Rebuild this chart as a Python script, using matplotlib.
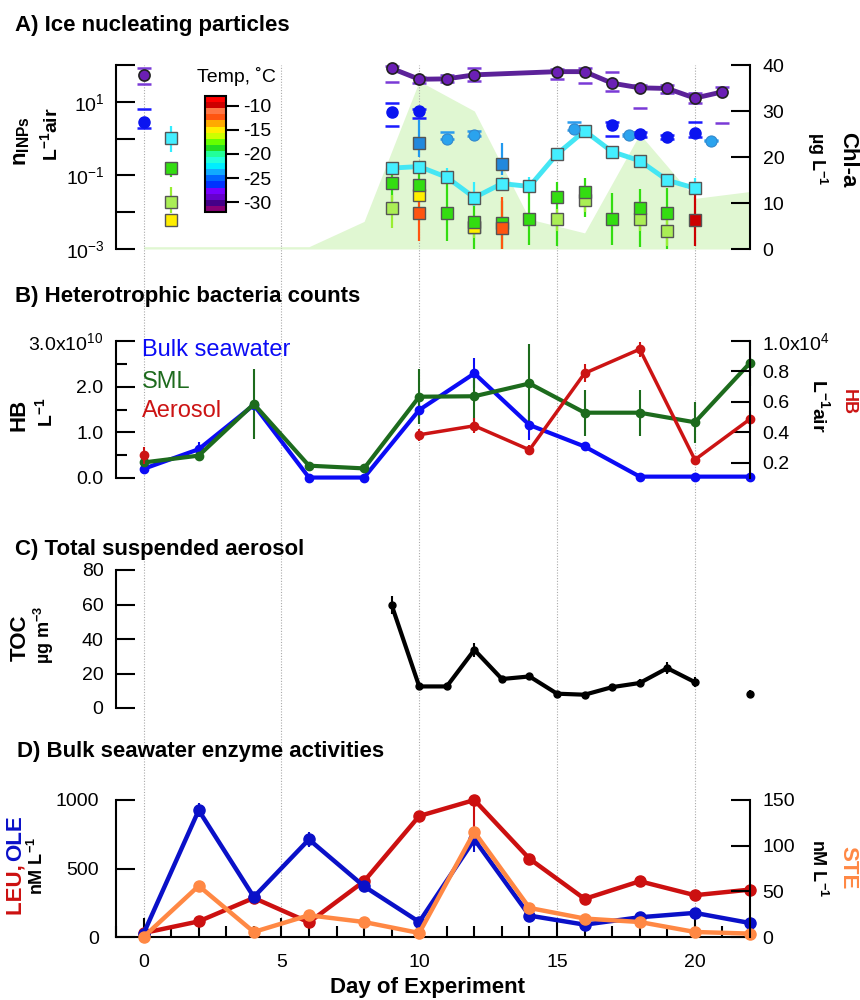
import numpy as np
import matplotlib.pyplot as plt
from matplotlib.colors import ListedColormap, Normalize
from matplotlib.cm import ScalarMappable
from matplotlib.ticker import NullLocator, FixedLocator, MultipleLocator

plt.rcParams['font.family'] = ['Liberation Sans', 'DejaVu Sans']
plt.rcParams['mathtext.default'] = 'regular'
plt.rcParams['axes.unicode_minus'] = False

# ---------------- data ----------------
# A) Chl-a (right axis, ug/L)
chl_days = [0, 6, 8, 10, 12, 14, 16, 18, 20, 22]
chl_vals = [0.5, 0.5, 6.0, 36.5, 30.0, 6.5, 3.5, 25.0, 11.0, 12.5]

# A) INP concentrations (per L air), grouped by freezing temperature
purple0_days = [0]
purple0_vals = [54]
purple0_lo = [30]
purple0_hi = [83]
purple_days = [9, 10, 11, 12, 15, 16, 17, 18, 19, 20, 21]
purple_vals = [81, 41, 42, 54, 66, 66, 32, 24, 23, 12.6, 18.6]
purple_lo = [35, 32, 35, 37, 41, 32, 20, 6.6, 17, 9.5, 2.7]
purple_hi = [95, 48, 54, 81, 76, 81, 66, 29, 29, 17, 24.5]

blue_days = [0, 9, 10, 17, 18, 19, 20]
blue_vals = [2.9, 5.4, 5.5, 2.3, 1.3, 1.1, 1.4]
blue_lo = [2.0, 2.2, 3.6, 1.2, 1.1, 0.95, 1.1]
blue_hi = [6.3, 9.3, 6.5, 2.9, 1.5, 1.25, 2.9]

lblue_days = [11, 12, 15.6, 17.6, 20.6]
lblue_vals = [0.98, 1.26, 1.8, 1.26, 0.87]
lblue_lo = [0.95, 1.2, 1.7, 1.2, 0.85]
lblue_hi = [1.55, 1.6, 2.9, 1.3, 0.9]

cyan0_days = [1]
cyan0_vals = [1.02]
cyan0_lo = [0.44]
cyan0_hi = [2.2]
cyan_days = [9, 10, 11, 12, 13, 14, 15, 16, 17, 18, 19, 20]
cyan_vals = [0.158, 0.174, 0.089, 0.025, 0.060, 0.050, 0.38, 1.62, 0.44, 0.25, 0.074, 0.045]
cyan_lo = [0.12, 0.13, 0.06, 0.015, 0.045, 0.035, 0.3, 1.3, 0.35, 0.2, 0.055, 0.035]
cyan_hi = [0.23, 0.25, 0.16, 0.068, 0.09, 0.093, 0.5, 2.0, 0.55, 0.3, 0.1, 0.085]

bsq_days = [10, 13]
bsq_vals = [0.74, 0.20]
bsq_lo = [0.32, 0.1]
bsq_hi = [3.2, 0.76]

green_days = [1, 9, 10, 11, 12, 13, 14, 15, 16, 17, 18, 19]
green_vals = [0.155, 0.062, 0.055, 0.0093, 0.0055, 0.005, 0.0065, 0.026, 0.036, 0.0066, 0.0129, 0.0093]
green_lo = [0.093, 0.02, 0.025, 0.0017, 0.001, 0.001, 0.0013, 0.0012, 0.0076, 0.0013, 0.00115, 0.001]
green_hi = [0.23, 0.14, 0.12, 0.062, 0.03, 0.02, 0.049, 0.068, 0.085, 0.033, 0.043, 0.045]

lgreen_days = [1, 9, 12, 15, 16, 18, 19]
lgreen_vals = [0.0195, 0.0129, 0.004, 0.0066, 0.0214, 0.0066, 0.0031]
lgreen_lo = [0.0093, 0.0037, 0.002, 0.003, 0.01, 0.003, 0.0012]
lgreen_hi = [0.049, 0.03, 0.008, 0.012, 0.04, 0.012, 0.006]

yellow_days = [1, 10, 12]
yellow_vals = [0.0062, 0.030, 0.004]

orange_days = [10, 13]
orange_vals = [0.0093, 0.0038]
orange_lo = [0.0017, 0.001]
orange_hi = [0.049, 0.026]

dred_days = [20]
dred_vals = [0.0062]
dred_lo = [0.0012]
dred_hi = [0.033]

# colour bar of temperatures (bottom = cold, top = warm)
temp_colors = ['#880077', '#440088', '#6600cc', '#7700ff', '#0033ff', '#0066ff',
               '#11aaff', '#00eeff', '#22ffdd', '#22ff99', '#22dd22', '#66ff00',
               '#ccff00', '#ffee00', '#ffaa00', '#ff5511', '#ff7744', '#cc0000', '#ff0000']
temp_ticks = [-10, -15, -20, -25, -30]

# B) heterotrophic bacteria
hb_days = [0, 2, 4, 6, 8, 10, 12, 14, 16, 18, 20, 22]
bulk_hb = [0.20, 0.63, 1.60, 0.01, 0.01, 1.49, 2.29, 1.16, 0.69, 0.03, 0.03, 0.03]   # x1e10 per L
bulk_err = [0.05, 0.15, 0.10, 0.0, 0.0, 0.20, 0.33, 0.33, 0.10, 0.0, 0.0, 0.0]
sml_hb = [0.34, 0.49, 1.62, 0.27, 0.21, 1.78, 1.79, 2.07, 1.43, 1.43, 1.22, 2.52]
sml_err = [0.05, 0.10, 0.76, 0.02, 0.02, 0.60, 0.60, 0.87, 0.50, 0.50, 0.45, 0.50]
aer_days = [0, 10, 12, 14, 16, 18, 20, 22]
aer_hb = [0.248, 0.384, 0.443, 0.285, 0.788, 0.946, 0.22, 0.487]                   # x1e4 per L air
aer_err = [0.055, 0.04, 0.05, 0.03, 0.06, 0.05, 0.02, 0.05]

# C) total organic carbon
toc_days = [9, 10, 11, 12, 13, 14, 15, 16, 17, 18, 19, 20]
toc_vals = [59.7, 12.5, 12.5, 33.7, 16.8, 18.3, 8.3, 7.7, 12.1, 14.5, 23.1, 15.0]
toc_err = [5, 1.5, 1.5, 4, 2, 2, 1.5, 1.5, 2, 2.5, 3.5, 3]
toc_last_day = [22]
toc_last_val = [8.1]
toc_last_err = [2.5]

# D) enzyme activities
enz_days = [0, 2, 4, 6, 8, 10, 12, 14, 16, 18, 20, 22]
leu = [29, 114, 285, 107, 407, 883, 1000, 571, 278, 407, 305, 346]
leu_err_lo = [0, 10, 10, 10, 15, 25, 235, 15, 10, 10, 10, 10]
leu_err_hi = [0, 10, 10, 10, 15, 25, 0, 15, 10, 10, 10, 10]
ole = [25, 925, 292, 712, 370, 110, 712, 156, 90, 144, 176, 102]
ole_err = [0, 50, 10, 55, 15, 10, 90, 10, 10, 10, 10, 10]
ste = [0, 56, 5.5, 23.8, 16.4, 4.4, 115, 31.8, 20.2, 16.4, 5.5, 3.7]

grid_days = [0, 5, 10, 15, 20]

# ---------------- layout helpers ----------------
W, H = 860, 1000


def fx(px):
    return px / W


def fy(py):
    return 1 - py / H


def rect(x0, y0, x1, y1):
    return [x0 / W, 1 - y1 / H, (x1 - x0) / W, (y1 - y0) / H]


def style(ax, side, pad=9):
    for s in ax.spines.values():
        s.set_visible(False)
    ax.spines[side].set_visible(True)
    ax.spines[side].set_linewidth(1.5)
    ax.patch.set_visible(False)
    ax.set_xlim(-1, 22)
    ax.tick_params(axis='x', which='both', bottom=False, top=False, labelbottom=False)
    left = side == 'left'
    ax.tick_params(axis='y', which='both', direction='in', width=1.5, labelsize=14, pad=pad,
                   left=left, labelleft=left, right=not left, labelright=not left)
    ax.tick_params(axis='y', which='major', length=14)
    ax.tick_params(axis='y', which='minor', length=8)


grid_kw = dict(color='#aaaaaa', lw=0.8, linestyle=(0, (1, 1.5)))
eb_kw = dict(elinewidth=1.5, capsize=0, clip_on=False)

fig = plt.figure(figsize=(8.6, 10), dpi=100)

# background axis for the vertical day guides
bg = fig.add_axes(rect(116, 65, 750, 937))
bg.set_xlim(-1, 22)
bg.set_ylim(0, 1)
bg.axis('off')
bg.vlines(grid_days, 0, (937 - 249) / (937 - 65), **grid_kw)

# ---------------- panel A ----------------
ax_chl = fig.add_axes(rect(116, 65, 750, 249))
style(ax_chl, 'right')
ax_chl.fill_between(chl_days, 0, chl_vals, color='#e0f7d2', lw=0)
ax_chl.set_ylim(0, 40)
ax_chl.set_yticks([0, 10, 20, 30, 40])

ax_a = fig.add_axes(rect(116, 65, 750, 249))
style(ax_a, 'left', pad=8)
ax_a.set_yscale('log')
ax_a.set_ylim(1e-3, 1e2)
ax_a.yaxis.set_major_locator(FixedLocator([1e-3, 1e-2, 1e-1, 1, 10, 100]))
ax_a.yaxis.set_minor_locator(NullLocator())
ax_a.set_yticklabels(['10$^{-3}$', '', '10$^{-1}$', '', '10$^{1}$', ''])
for d in grid_days:
    ax_a.axvline(d, zorder=0.5, **grid_kw)


def bars(days, lo, hi, color):
    ax_a.vlines(days, lo, hi, color=color, lw=1.6, zorder=2)


def caps(days, lo, hi, color):
    ax_a.plot(days, lo, '_', color=color, ms=10, mew=1.8, zorder=3, clip_on=False)
    ax_a.plot(days, hi, '_', color=color, ms=10, mew=1.8, zorder=3, clip_on=False)


sq = dict(marker='s', ms=8, mec='#555555', mew=1.0, zorder=4, linestyle='none', clip_on=False)

bars(green_days, green_lo, green_hi, '#33dd11')
bars(lgreen_days, lgreen_lo, lgreen_hi, '#99ee33')
bars(orange_days, orange_lo, orange_hi, '#ff5511')
bars(dred_days, dred_lo, dred_hi, '#cc0000')
bars(bsq_days, bsq_lo, bsq_hi, '#2299ee')
bars(cyan0_days, cyan0_lo, cyan0_hi, '#33eeff')
bars(cyan_days, cyan_lo, cyan_hi, '#33eeff')

ax_a.plot(lgreen_days, lgreen_vals, mfc='#aaee55', **sq)
ax_a.plot(yellow_days, yellow_vals, mfc='#ffee00', **sq)
ax_a.plot(green_days, green_vals, mfc='#33dd11', **sq)
ax_a.plot(orange_days, orange_vals, mfc='#ff5511', **sq)
ax_a.plot(dred_days, dred_vals, mfc='#cc0000', **sq)
ax_a.plot(bsq_days, bsq_vals, mfc='#2288dd', **sq)
ax_a.plot(cyan_days, cyan_vals, '-', color='#44e6f4', lw=3.5, zorder=4)
ax_a.plot(cyan_days, cyan_vals, mfc='#44eeff', **sq)
ax_a.plot(cyan0_days, cyan0_vals, mfc='#44eeff', **sq)

caps(lblue_days, lblue_lo, lblue_hi, '#2a9cee')
caps(blue_days, blue_lo, blue_hi, '#1a1aff')
caps(purple0_days, purple0_lo, purple0_hi, '#7a3ad6')
caps(purple_days, purple_lo, purple_hi, '#7a3ad6')
ax_a.plot(lblue_days, lblue_vals, 'o', ms=8, mfc='#2aa3ee', mec='#3388cc', mew=0.8, zorder=5)
ax_a.plot(blue_days, blue_vals, 'o', ms=8, mfc='#0a14f0', mec='#0a14f0', zorder=5)
ax_a.plot(purple_days, purple_vals, '-', color='#5c2299', lw=3.5, zorder=5, clip_on=False)
ax_a.plot(purple_days, purple_vals, 'o', ms=8, mfc='#6b1fb5', mec='#222222', mew=1.2,
          zorder=6, clip_on=False)
ax_a.plot(purple0_days, purple0_vals, 'o', ms=8, mfc='#6b1fb5', mec='#222222', mew=1.2,
          zorder=6, clip_on=False)

# temperature colour bar
cax = fig.add_axes(rect(205, 96, 226, 212))
sm = ScalarMappable(norm=Normalize(-32, -8), cmap=ListedColormap(temp_colors))
cb = fig.colorbar(sm, cax=cax, ticks=temp_ticks)
cb.outline.set_linewidth(1.5)
cax.tick_params(length=9, width=1.5, labelsize=14, pad=3)
fig.text(fx(236), fy(77), 'Temp, ˚C', fontsize=14, ha='center', va='center')

# ---------------- panel B ----------------
ax_b = fig.add_axes(rect(116, 341, 750, 478))
style(ax_b, 'left')
ax_b.set_ylim(0, 3)
ax_b.set_yticks([0, 1, 2, 3])
ax_b.set_yticklabels(['0.0', '1.0', '2.0', '3.0x10$^{10}$'])
ax_b.yaxis.set_minor_locator(FixedLocator([0.5, 1.5, 2.5]))
ax_b.errorbar(hb_days, bulk_hb, yerr=bulk_err, fmt='-o', color='#0b0bf5', lw=3, ms=6, **eb_kw)
ax_b.errorbar(hb_days, sml_hb, yerr=sml_err, fmt='-o', color='#1d6b1d', lw=3, ms=6, **eb_kw)

ax_b2 = fig.add_axes(rect(116, 341, 750, 478))
style(ax_b2, 'right')
ax_b2.set_ylim(0.1, 1.0)
ax_b2.set_yticks([0.2, 0.4, 0.6, 0.8, 1.0])
ax_b2.set_yticklabels(['0.2', '0.4', '0.6', '0.8', '1.0x10$^{4}$'])
ax_b2.errorbar(aer_days[1:], aer_hb[1:], yerr=aer_err[1:], fmt='-o', color='#cc1414', lw=2.5,
               ms=6, **eb_kw)
ax_b2.errorbar(aer_days[:1], aer_hb[:1], yerr=aer_err[:1], fmt='o', color='#cc1414', ms=6,
               **eb_kw)

fig.text(fx(142), fy(350), 'Bulk seawater', color='#0b0bf5', fontsize=17, va='center')
fig.text(fx(142), fy(382), 'SML', color='#1d6b1d', fontsize=17, va='center')
fig.text(fx(142), fy(411), 'Aerosol', color='#cc1414', fontsize=17, va='center')

# ---------------- panel C ----------------
ax_c = fig.add_axes(rect(116, 570, 750, 708))
style(ax_c, 'left')
ax_c.set_ylim(0, 80)
ax_c.set_yticks([0, 20, 40, 60, 80])
ax_c.errorbar(toc_days, toc_vals, yerr=toc_err, fmt='-o', color='black', lw=3, ms=5, **eb_kw)
ax_c.errorbar(toc_last_day, toc_last_val, yerr=toc_last_err, fmt='o', color='black', ms=5,
              **eb_kw)

# ---------------- panel D ----------------
ax_d = fig.add_axes(rect(116, 800, 750, 937))
style(ax_d, 'left', pad=12)
ax_d.spines['bottom'].set_visible(True)
ax_d.spines['bottom'].set_linewidth(1.5)
ax_d.set_ylim(0, 1000)
ax_d.set_yticks([0, 500, 1000])
ax_d.yaxis.set_minor_locator(NullLocator())
ax_d.set_xticks([0, 5, 10, 15, 20])
ax_d.xaxis.set_minor_locator(MultipleLocator(1))
ax_d.tick_params(axis='x', which='both', bottom=True, labelbottom=True, direction='in',
                 width=1.5, labelsize=14, pad=12)
ax_d.tick_params(axis='x', which='major', length=14)
ax_d.tick_params(axis='x', which='minor', length=8)
ax_d.errorbar(enz_days, leu, yerr=[leu_err_lo, leu_err_hi], fmt='-o', color='#cc1010', lw=3.2,
              ms=8, **eb_kw)
ax_d.errorbar(enz_days, ole, yerr=ole_err, fmt='-o', color='#0a10c8', lw=3.2, ms=8, **eb_kw)

ax_d2 = fig.add_axes(rect(116, 800, 750, 937))
style(ax_d2, 'right')
ax_d2.set_ylim(0, 150)
ax_d2.set_yticks([0, 50, 100, 150])
ax_d2.plot(enz_days, ste, '-o', color='#ff8844', lw=3.2, ms=8, clip_on=False)

fig.text(fx(428), fy(988), 'Day of Experiment', fontsize=16, fontweight='bold',
         ha='center', va='center')

# ---------------- titles and axis labels ----------------
title_kw = dict(fontsize=16, fontweight='bold', va='baseline', ha='left')
fig.text(fx(15), fy(31), 'A) Ice nucleating particles', **title_kw)
fig.text(fx(15), fy(302), 'B) Heterotrophic bacteria counts', **title_kw)
fig.text(fx(15), fy(555), 'C) Total suspended aerosol', **title_kw)
fig.text(fx(17), fy(757), 'D) Bulk seawater enzyme activities', **title_kw)

lab = dict(fontweight='bold', ha='center', va='center')
fig.text(fx(22), fy(141), 'n$_{INPs}$', fontsize=16, rotation=90, **lab)
fig.text(fx(50), fy(134), 'L$^{-1}$air', fontsize=14, rotation=90, **lab)
fig.text(fx(848), fy(160), 'Chl-a', fontsize=16, rotation=270, **lab)
fig.text(fx(817), fy(159), 'µg L$^{-1}$', fontsize=13, rotation=270, **lab)

fig.text(fx(19), fy(415), 'HB', fontsize=16, rotation=90, **lab)
fig.text(fx(45), fy(412), 'L$^{-1}$', fontsize=14, rotation=90, **lab)
fig.text(fx(848), fy(402), 'HB', fontsize=13, rotation=270, color='#cc1414', **lab)
fig.text(fx(820), fy(406), 'L$^{-1}$air', fontsize=14, rotation=270, **lab)

fig.text(fx(20), fy(638), 'TOC', fontsize=16, rotation=90, **lab)
fig.text(fx(44), fy(635), 'µg m$^{-3}$', fontsize=13, rotation=90, **lab)

fig.text(fx(16), fy(915), 'LEU, ', fontsize=16, rotation=90, color='#cc1010',
         fontweight='bold', ha='center', va='bottom')
fig.text(fx(16), fy(815), 'OLE', fontsize=16, rotation=90, color='#0a10c8',
         fontweight='bold', ha='center', va='top')
fig.text(fx(37), fy(866), 'nM L$^{-1}$', fontsize=13, rotation=90, **lab)
fig.text(fx(848), fy(868), 'STE', fontsize=16, rotation=270, color='#ff8844', **lab)
fig.text(fx(818), fy(868), 'nM L$^{-1}$', fontsize=13, rotation=270, **lab)

fig.savefig('out.png', dpi=100)
